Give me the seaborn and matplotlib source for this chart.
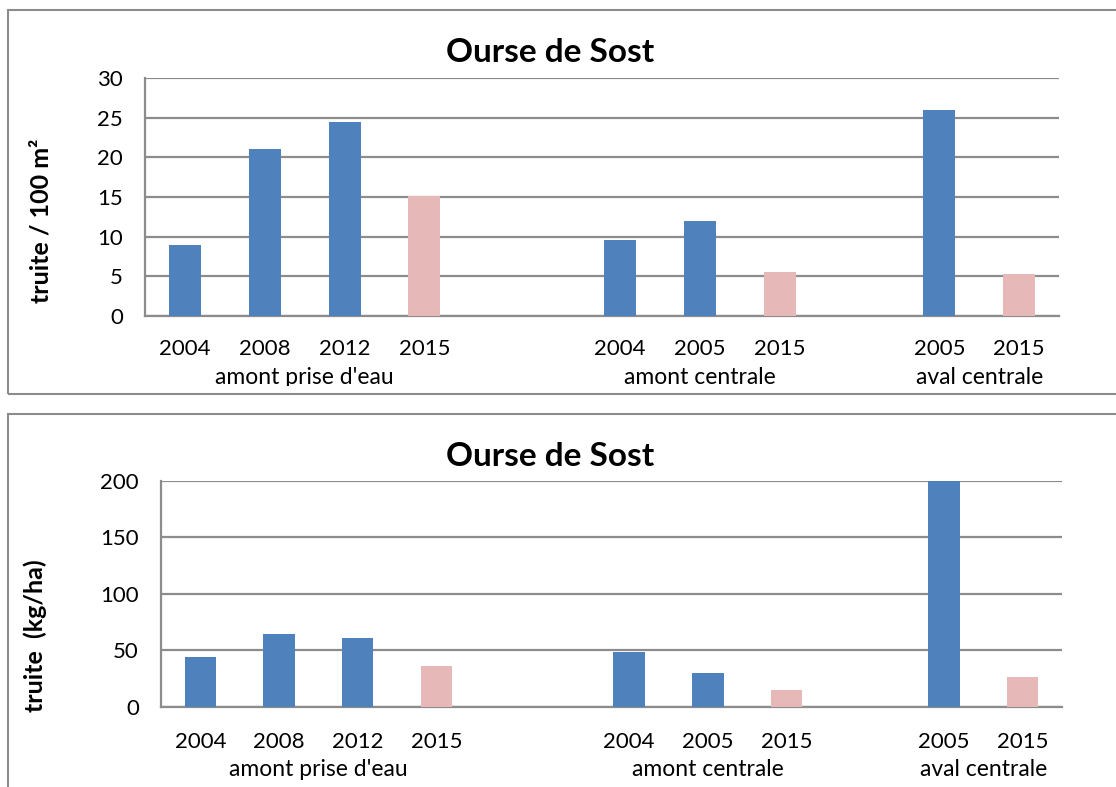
import pandas as pd
import matplotlib.pyplot as plt
import seaborn as sns
from matplotlib.patches import Rectangle
from matplotlib.transforms import blended_transform_factory

# Data
years = ['2004', '2008', '2012', '2015', '2004', '2005', '2015', '2005', '2015']
stations = ["amont prise d'eau"] * 4 + ['amont centrale'] * 3 + ['aval centrale'] * 2
period = ['avant', 'avant', 'avant', '2015', 'avant', 'avant', '2015', 'avant', '2015']
density = [8.9, 21.1, 24.5, 15.1, 9.6, 12.0, 5.6, 26.0, 5.3]
biomass = [44, 64.4, 61.2, 36, 48.5, 29.8, 14.8, 200, 26.3]
group_names = ["amont prise d'eau", 'amont centrale', 'aval centrale']

# x slots (Excel leaves gaps between stations)
xpos = [0, 1, 2, 3, 5.45, 6.45, 7.45, 9.45, 10.45]

df = pd.DataFrame({'x': xpos, 'year': years, 'station': stations,
                   'period': period, 'density': density, 'biomass': biomass})

palette = {'avant': '#4F81BD', '2015': '#E6B9B8'}
grid_c = '#8C8C8C'

sns.set_style('white')
plt.rcParams['font.family'] = ['Lato', 'DejaVu Sans']
plt.rcParams['text.color'] = 'black'
plt.rcParams['axes.labelcolor'] = 'black'
plt.rcParams['ytick.labelcolor'] = 'black'

W, H = 1116, 787
fig = plt.figure(figsize=(W / 100, H / 100), dpi=100)


def px_axes(x0, x1, ytop, ybot):
    return fig.add_axes([x0 / W, 1 - ybot / H, (x1 - x0) / W, (ybot - ytop) / H])


def draw(ax, col, ymax, step, ylabel, lab_x, lab_y, title_y, year_y, group_y):
    sns.barplot(ax=ax, data=df, x='x', y=col, hue='period', palette=palette,
                native_scale=True, dodge=False, width=0.4, legend=False,
                saturation=1, edgecolor='none', zorder=3)
    ax.set_xlim(-0.5, 10.95)
    ax.set_ylim(0, ymax)
    ax.set_yticks(range(0, ymax + 1, step))
    ax.yaxis.grid(True, color=grid_c, linewidth=1.6, zorder=0)
    ax.set_axisbelow(True)
    for s in ['top', 'right']:
        ax.spines[s].set_visible(False)
    for s in ['left', 'bottom']:
        ax.spines[s].set_color(grid_c)
        ax.spines[s].set_linewidth(1.6)
    ax.tick_params(axis='y', direction='out', length=6, width=1.6, color=grid_c,
                   labelcolor='black', labelsize=16, pad=10)
    ax.set_xticks(xpos)
    ax.set_xticklabels([])
    ax.tick_params(axis='x', length=0)
    ax.set_xlabel('')
    ax.set_ylabel(ylabel, fontsize=18, fontweight='bold', va='center', color='black')
    ax.yaxis.set_label_coords(lab_x, lab_y)
    tr = blended_transform_factory(ax.transData, fig.transFigure)
    for x, y in zip(xpos, years):
        ax.text(x, 1 - year_y / H, y, transform=tr, ha='center', va='center',
                fontsize=16, color='black')
    for g in group_names:
        xs = df.loc[df['station'] == g, 'x']
        ax.text(xs.mean(), 1 - group_y / H, g, transform=tr, ha='center',
                va='center', fontsize=16.5, color='black')
    fig.text(550 / W, 1 - title_y / H, 'Ourse de Sost', ha='center', va='center',
             fontsize=24, fontweight='bold', color='black')


ax1 = px_axes(145, 1059, 78, 316)
draw(ax1, 'density', 30, 5, 'truite / 100 m²', (41 - 145) / 914, 0.40, 53, 349, 378)

ax2 = px_axes(161, 1062, 481, 706.7)
draw(ax2, 'biomass', 200, 50, 'truite  (kg/ha)', (35 - 161) / 901, 0.313, 457, 742, 770)

# hide the clipped bottom of the first group labels, then chart frames
fig.patches.append(Rectangle((0, 1 - 394 / H), 1, 8 / H, transform=fig.transFigure,
                             facecolor='white', edgecolor='none', zorder=5))
fig.patches.append(Rectangle((8 / W, 1 - 394 / H), 1.2, 384 / H, transform=fig.transFigure,
                             facecolor='none', edgecolor=grid_c, linewidth=1.5, zorder=6))
fig.patches.append(Rectangle((8 / W, -0.1), 1.2, 0.1 + (H - 414) / H,
                             transform=fig.transFigure, facecolor='none',
                             edgecolor=grid_c, linewidth=1.5, zorder=6))

fig.savefig('out.png', dpi=100, facecolor='white')
